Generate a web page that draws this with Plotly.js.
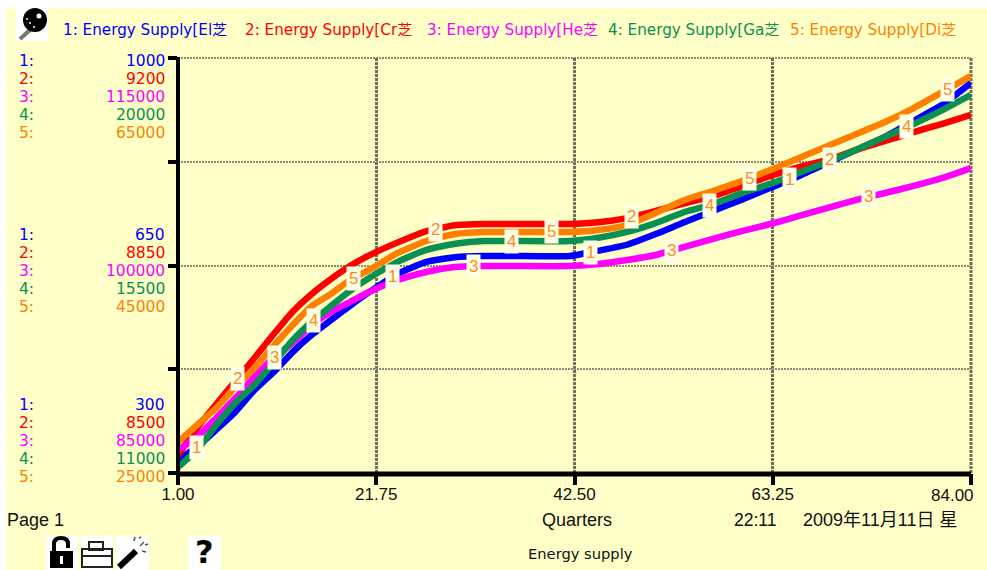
<!DOCTYPE html>
<html><head><meta charset="utf-8">
<script src="https://cdn.plot.ly/plotly-3.0.1.min.js"></script>
<style>html,body{margin:0;padding:0;background:#fff;overflow:hidden}</style>
</head><body><div id="chart" style="width:987px;height:570px"></div>
<script>
const quarters = [1,3,5,7,9,11,13,15,17,19,21,24,27,30,33,36,42,45,48,51,54,57,60,63,66,69,72,75,78,81,84];
const electricity = [322,344,373,403,440,470,504,533,558,582,605,636,656,664,666,666,666,675,685,703,723,742,761,781,801,823,845,867,894,921,958];
const crude = [8530,8576,8616,8655,8694,8734,8772,8802,8827,8849,8867,8889,8908,8918,8920,8920,8920,8923,8930,8942,8955,8967,8984,9001,9016,9028,9045,9060,9075,9089,9104];
const heat = [86660,87600,88980,90420,91940,93310,94400,95700,96640,97360,98080,98950,99530,99890,99960,99960,99960,100110,100400,100760,101340,101920,102490,103000,103580,104160,104740,105240,105750,106330,107050];
const gas = [11130,11500,12040,12520,12910,13390,13880,14280,14620,14950,15230,15580,15840,15970,16030,16030,16030,16100,16230,16420,16660,16830,17070,17270,17510,17750,18010,18290,18570,18870,19200];
const diesel = [27990,29630,31270,33290,35120,37240,39270,41100,42250,43600,44570,46210,47360,48040,48230,48230,48230,48420,48900,50060,51310,52180,53150,54210,55360,56520,57680,58830,60180,61720,63270];

const seriesValues = [electricity, crude, heat, gas, diesel];
const seriesColors = ['#0000FF','#FF0000','#FF00FF','#0A9050','#FF8000'];
const legendLabels = ['1: Energy Supply[El芝','2: Energy Supply[Cr芝','3: Energy Supply[He芝','4: Energy Supply[Ga芝','5: Energy Supply[Di芝'];
const scaleTop = [1000,9200,115000,20000,65000];
const scaleMid = [650,8850,100000,15500,45000];
const scaleLow = [300,8500,85000,11000,25000];
const xTickVals = [1,21.75,42.5,63.25,84];
const xTickText = ['1.00','21.75','42.50','63.25',''];
const lastTickText = '84.00';
const labelQuarters = [2.9,7.2,11.1,15.2,19.4,23.5,27.9,31.9,35.9,40.1,44.2,48.5,52.6,56.6,60.8,65,69.2,73.3,77.3,81.5];

const W=987,H=570, FX=v=>v/W, FY=v=>1-v/H;
const yNames=['y','y2','y3','y4','y5'];
const axisNames=['yaxis','yaxis2','yaxis3','yaxis4','yaxis5'];
const interp=(xs,ys,x)=>{for(let i=1;i<xs.length;i++){if(x<=xs[i]){const t=(x-xs[i-1])/(xs[i]-xs[i-1]);return ys[i-1]+t*(ys[i]-ys[i-1]);}}return ys[ys.length-1];};

const traces=seriesValues.map((v,i)=>({type:'scatter',mode:'lines',x:quarters,y:v,yaxis:yNames[i],
  line:{color:seriesColors[i],width:6.5,shape:'spline',smoothing:0.5},hoverinfo:'skip',showlegend:false}));

const annotations=[];
const txt=(x,y,text,color,size,anchor,family,extra)=>annotations.push(Object.assign({xref:'paper',yref:'paper',x:FX(x),y:FY(y),text,showarrow:false,
  xanchor:anchor,yanchor:'middle',font:{family,size,color},borderpad:0},extra||{}));
const UI='DejaVu Sans, Noto Sans CJK JP', AR='Liberation Sans, Noto Sans CJK JP';
const legendX=[62,244,426,607,789];
legendLabels.forEach((t,i)=>txt(legendX[i],30,t,seriesColors[i],15.2,'left',UI));
[[scaleTop,61],[scaleMid,235],[scaleLow,405]].forEach(([vals,y0])=>{
  vals.forEach((v,i)=>{
    txt(18,y0+i*18,(i+1)+':',seriesColors[i],15.5,'left',UI);
    txt(166,y0+i*18,String(v),seriesColors[i],15.5,'right',UI);
  });
});
txt(6,520,'Page 1','#111',18,'left',AR);
txt(577,520,'Quarters','#111',18,'center',AR);
txt(733,520,'22:11','#111',17.5,'left',AR);
txt(802,520,'2009年11月11日 星','#111',18,'left',AR);
txt(580,553,'Energy supply','#111',14.7,'center',UI);
txt(975,495,lastTickText,'#111',17,'right',AR);

labelQuarters.forEach((q,i)=>{
  const k=i%5;
  annotations.push({xref:'x',yref:yNames[k],x:q,y:interp(quarters,seriesValues[k],q),text:String(k+1),showarrow:false,
    xanchor:'center',yanchor:'middle',font:{family:AR,size:17,color:'#FF8C1A'},bgcolor:'#FFFFE6',borderpad:2});
});
txt(204.5,552,'?','#000',32,'center','DejaVu Sans',{});
annotations[annotations.length-1].font.weight=700;

const rect=(x0,y0,x1,y1,fill,extra)=>Object.assign({type:'rect',xref:'paper',yref:'paper',x0:FX(x0),x1:FX(x1),y0:FY(y0),y1:FY(y1),fillcolor:fill,line:{width:0}},extra||{});
const line=(x0,y0,x1,y1,color,width,extra)=>Object.assign({type:'line',xref:'paper',yref:'paper',x0:FX(x0),x1:FX(x1),y0:FY(y0),y1:FY(y1),line:{color,width}},extra||{});
const circ=(cx,cy,r,fill,extra)=>Object.assign({type:'circle',xref:'paper',yref:'paper',x0:FX(cx-r),x1:FX(cx+r),y0:FY(cy+r),y1:FY(cy-r),fillcolor:fill,line:{width:0}},extra||{});
const shapes=[
  rect(6,8,W,H,'#FFFFC8',{layer:'below'}),
  rect(16,8,48,41,'#FFFFFF'),
  line(31,29,20,39,'#777',4),
  circ(35,20,12,'#000'),
  circ(39,16,2.5,'#fff'),circ(30,23,1,'#fff'),circ(34,27,1,'#fff'),circ(27,19,1,'#fff'),
  rect(46,536,78,570,'#FFFFFF'),
  {type:'path',xref:'paper',yref:'paper',path:`M${FX(54)},${FY(553)} L${FX(54)},${FY(544)} Q${FX(54)},${FY(538)} ${FX(61)},${FY(538)} Q${FX(68)},${FY(538)} ${FX(68)},${FY(544)} L${FX(68)},${FY(548)}`,line:{color:'#000',width:4}},
  rect(50,551,73,568,'#000'),
  rect(60,556,63,564,'#fff'),
  rect(81,536,113,570,'#FFFFFF'),
  rect(89,542,103,550,'rgba(0,0,0,0)',{line:{color:'#222',width:2}}),
  rect(82,549,112,567,'rgba(0,0,0,0)',{line:{color:'#222',width:2}}),
  line(82,556,112,556,'#222',2),
  rect(116,536,149,570,'#FFFFFF'),
  line(119,567,136,551,'#000',6),
  line(140,546,144,542,'#555',1.5),line(134,541,135,537,'#555',1.5),line(142,551,146,552,'#555',1.5),line(139,538,141,537,'#555',1.5),line(145,545,148,544,'#555',1.5),
  rect(188,536,221,570,'#FFFFFF'),
  line(178,58,971,58,'#8a8a74',2,{layer:'below'}),
  line(971,58,971,473,'#6e6e58',3,{layer:'below'}),
  line(178,57,178,476,'#000',4),
  line(176,474,971,474,'#000',5)
];
shapes[shapes.length-4].line.dash='2px,1px';
shapes[shapes.length-3].line.dash='3px,1px';

const xDomain=[178/W,971/W], yDomain=[1-473/H,1-58/H];
const layout={width:W,height:H,margin:{l:0,r:0,t:0,b:0,pad:0},paper_bgcolor:'#FFFFFF',plot_bgcolor:'rgba(0,0,0,0)',showlegend:false,
  xaxis:{domain:xDomain,range:[1,84],tickmode:'array',tickvals:xTickVals,ticktext:xTickText,showgrid:true,gridcolor:'#6e6e58',gridwidth:3,griddash:'3px,1px',
    showline:false,ticks:'outside',ticklen:11,tickwidth:4,tickcolor:'#000',zeroline:false,anchor:'y',ticklabelstandoff:-5,
    tickfont:{family:AR,size:17,color:'#111'}},
  annotations,shapes};
seriesValues.forEach((v,i)=>{
  const ax={domain:yDomain,range:[scaleLow[i],scaleTop[i]],fixedrange:true,zeroline:false};
  if(i===0){
    const m=(scaleLow[0]+scaleMid[0])/2, n=(scaleTop[0]+scaleMid[0])/2;
    Object.assign(ax,{tickmode:'array',tickvals:[scaleLow[0],m,scaleMid[0],n,scaleTop[0]],showticklabels:false,showgrid:true,gridcolor:'#8a8a74',gridwidth:2,griddash:'2px,1px',
      showline:false,ticks:'outside',ticklen:9,tickwidth:4,tickcolor:'#000',anchor:'x'});
  } else {
    Object.assign(ax,{overlaying:'y',visible:false,anchor:'x'});
  }
  layout[axisNames[i]]=ax;
});
Plotly.newPlot('chart',traces,layout,{displayModeBar:false,staticPlot:true});
</script></body></html>
